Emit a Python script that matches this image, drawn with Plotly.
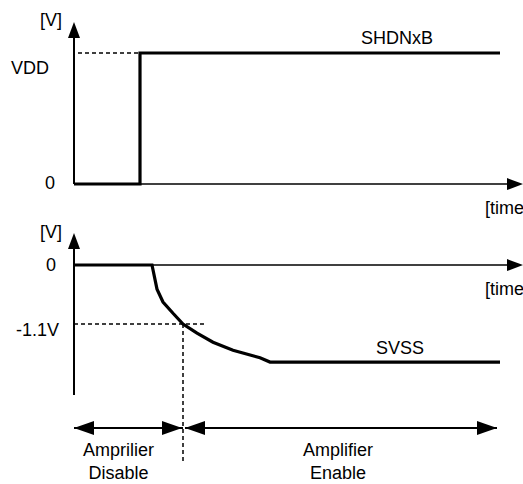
import plotly.graph_objects as go

# ---------------- data ----------------
VDD = 3.3
shdn_t = [0.0, 1.32, 1.32, 8.52]
shdn_v = [0.0, 0.0, VDD, VDD]

svss_t = [0.0, 1.56, 1.66, 1.78, 1.98, 2.18, 2.46, 2.78, 3.18, 3.72, 3.92, 8.52]
svss_v = [0.0, 0.0, -0.45, -0.69, -0.90, -1.10, -1.27, -1.44, -1.59, -1.73, -1.81, -1.81]

t_cross = 2.18
v_cross = -1.1

top_tick_vals = [0.0, VDD]
top_tick_text = ["0", "VDD"]
bot_tick_vals = [0.0, v_cross]
bot_tick_text = ["0", "-1.1V"]

phase_labels = ["Amprilier<br>Disable", "Amplifier<br>Enable"]

# ---------------- layout geometry (screen pixels) ----------------
SW, SH = 523, 484
OFF = 0
W, H = SW - OFF, SH - OFF
X0PX, PXT = 74, 50.0          # y-axis position, px per time unit
TOP0, TOPV = 184, 53          # pixel rows of 0 and VDD (top panel)
BOT0, BOTV = 265, 324         # pixel rows of 0 and -1.1 V (bottom panel)
SPLIT = 230
PXV_T = (TOP0 - TOPV) / VDD
PXV_B = (BOTV - BOT0) / abs(v_cross)

def tx(px):
    return (px - X0PX) / PXT

def ty(py):
    return (TOP0 - py) / PXV_T

def by(py):
    return (BOT0 - py) / PXV_B

def px_(px):
    return (px - OFF) / W

def py_(py):
    return 1 - (py - OFF) / H

FONT = dict(family="Liberation Sans, Arial, sans-serif", size=18, color="black")

fig = go.Figure()
fig.add_trace(go.Scatter(x=shdn_t, y=shdn_v, mode="lines", name="SHDNxB",
                         line=dict(color="black", width=3.2), xaxis="x", yaxis="y",
                         hoverinfo="skip"))
fig.add_trace(go.Scatter(x=svss_t, y=svss_v, mode="lines", name="SVSS",
                         line=dict(color="black", width=3.2), xaxis="x2", yaxis="y2",
                         hoverinfo="skip"))

shapes = []

def line(xref, yref, x0, y0, x1, y1, w=2, dash=None):
    d = dict(type="line", xref=xref, yref=yref, x0=x0, y0=y0, x1=x1, y1=y1,
             line=dict(color="black", width=w))
    if dash:
        d["line"]["dash"] = dash
    shapes.append(d)

def head(xref, yref, x, y, path):
    shapes.append(dict(type="path", xref=xref, yref=yref, xsizemode="pixel", ysizemode="pixel",
                       xanchor=x, yanchor=y, path=path, fillcolor="black",
                       line=dict(color="black", width=0)))

UP = "M0,0 L-6,-16 L6,-16 Z"
RIGHT = "M0,0 L-16,6 L-16,-6 Z"
DRIGHT = "M0,0 L-20,7 L-20,-7 Z"
DLEFT = "M0,0 L20,7 L20,-7 Z"

# top panel axes
line("x", "y", 0, 0, 0, ty(32), w=2)
head("x", "y", 0, ty(22), UP)
line("x", "y", 0, 0, tx(512), 0, w=1.6)
head("x", "y", tx(523), 0, RIGHT)
line("x", "y", tx(78), VDD, shdn_t[1], VDD, w=1.5, dash="4px,3px")

# bottom panel axes
line("x2", "y2", 0, by(395), 0, by(243), w=2)
head("x2", "y2", 0, by(233), UP)
line("x2", "y2", 0, 0, tx(512), 0, w=1.6)
head("x2", "y2", tx(523), 0, RIGHT)
line("x2", "y2", 0, v_cross, tx(207), v_cross, w=1.5, dash="4px,3px")
line("x2", "y2", t_cross, v_cross, t_cross, by(462), w=1.5, dash="4px,3px")

# phase arrows
ya = by(428)
line("x2", "y2", 0, ya, t_cross, ya, w=2)
head("x2", "y2", 0, ya, DLEFT)
head("x2", "y2", tx(182), ya, DRIGHT)
line("x2", "y2", tx(185), ya, tx(497), ya, w=2)
head("x2", "y2", tx(185), ya, DLEFT)
head("x2", "y2", tx(497), ya, DRIGHT)

annotations = []

def text(s, x, y, xanchor="center", yanchor="middle"):
    annotations.append(dict(text=s, x=px_(x), y=py_(y), xref="paper", yref="paper",
                            xanchor=xanchor, yanchor=yanchor, showarrow=False, font=FONT))

text("[V]", 51, 20)
text(top_tick_text[1], 51, 68, xanchor="right")
text(top_tick_text[0], 57, 183, xanchor="right")
text("SHDNxB", 397, 38)
text("[time", 483, 208, xanchor="left")
text("[V]", 51, 232)
text(bot_tick_text[0], 58, 265, xanchor="right")
text(bot_tick_text[1], 61, 330, xanchor="right")
text("[time", 483, 289, xanchor="left")
text("SVSS", 400, 348)
text(phase_labels[0], 118, 461)
text(phase_labels[1], 338, 461)

ax_common = dict(visible=False, range=[tx(OFF), tx(SW)], domain=[0, 1], fixedrange=True)
fig.update_layout(
    width=W, height=H,
    margin=dict(l=0, r=0, t=0, b=0),
    paper_bgcolor="white", plot_bgcolor="white",
    showlegend=False,
    xaxis=dict(**ax_common, anchor="y"),
    xaxis2=dict(**ax_common, anchor="y2"),
    yaxis=dict(visible=False, domain=[py_(SPLIT), 1], range=[ty(SPLIT), ty(OFF)], fixedrange=True, anchor="x"),
    yaxis2=dict(visible=False, domain=[0, py_(SPLIT)], range=[by(SH), by(SPLIT)], fixedrange=True, anchor="x2"),
    shapes=shapes,
    annotations=annotations,
)

fig.write_html("out.html", config={"displayModeBar": False},
               post_script="document.body.style.margin='0';document.body.style.overflow='hidden';")
